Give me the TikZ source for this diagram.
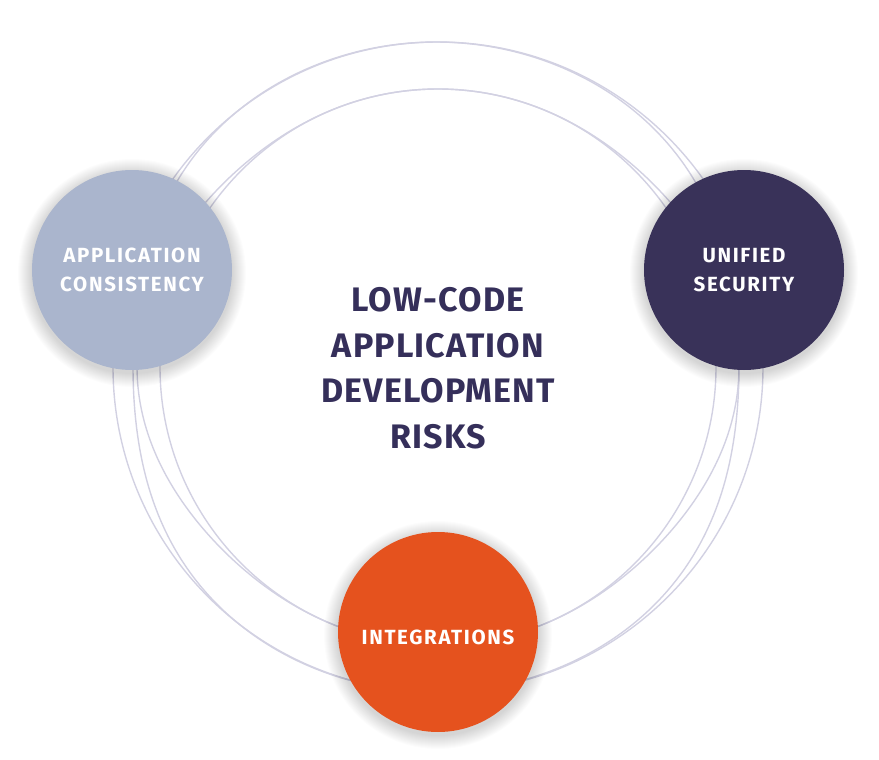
\documentclass[tikz,border=0pt]{standalone}
\usepackage{fontspec}
\setmainfont{Fira Sans}
\newfontfamily\topicfont[LetterSpace=8]{Fira Sans}
\newfontfamily\headfont[LetterSpace=3.5]{Fira Sans}
\usetikzlibrary{backgrounds}

\definecolor{ringline}{HTML}{D2D1E2}
\definecolor{paleblue}{HTML}{AAB5CD}
\definecolor{darkplum}{HTML}{393259}
\definecolor{rustorange}{HTML}{E5521E}
\definecolor{headtext}{HTML}{352F5A}

\tikzstyle{topic} = [circle, minimum size=200pt, inner sep=0pt, text centered, align=center, text=white, font=\topicfont\bfseries\fontsize{20.5}{29.5}\selectfont]
\tikzstyle{headline} = [text centered, align=center, text=headtext, font=\headfont\bfseries\fontsize{34}{45.5}\selectfont]
\tikzstyle{orbit} = [draw=ringline, line width=1.4pt]
\tikzstyle{halo} = [fill=black, opacity=0.01]

\begin{document}
\begin{tikzpicture}[x=1pt, y=-1pt, node distance=306pt]
        \useasboundingbox (0,0) rectangle (879,760);
        \node (Risks) [headline] at (438,368) {LOW-CODE\\APPLICATION\\DEVELOPMENT\\RISKS};
        \node (Consistency) [topic, fill=paleblue, left of = Risks, yshift = 98pt] {APPLICATION\\CONSISTENCY};
        \node (Security) [topic, fill=darkplum, right of = Risks, yshift = 98pt] {UNIFIED\\SECURITY};
        \node (Integrations) [topic, fill=rustorange, below of = Risks, yshift = 42pt, text height = 26pt] {INTEGRATIONS};

        \begin{scope}[on background layer]
            \coordinate (Hub) at (438,367);
            \draw [orbit] (Hub) circle (325pt);
            \draw [orbit] (Hub) circle (278pt);
            \draw [orbit, shift={(436,367)}] plot [domain=0:360, samples=240, smooth cycle] ({(325-22*cos(\x)*cos(\x)*cos(\x)*cos(\x)*cos(\x)*cos(\x))*cos(\x)}, {(325-22*cos(\x)*cos(\x)*cos(\x)*cos(\x)*cos(\x)*cos(\x))*sin(\x)});
            \draw [orbit, shift={(438,367)}] plot [domain=0:360, samples=240, smooth cycle] ({(278+23*cos(\x)*cos(\x)*cos(\x)*cos(\x)*cos(\x)*cos(\x))*cos(\x)}, {(278+23*cos(\x)*cos(\x)*cos(\x)*cos(\x)*cos(\x)*cos(\x))*sin(\x)});
            \foreach \dot in {Consistency, Security, Integrations}
                \foreach \r in {1,...,14}
                    \fill [halo] ([yshift=-3pt]\dot.center) circle (100pt+\r pt);
        \end{scope}
    \end{tikzpicture}
\end{document}
